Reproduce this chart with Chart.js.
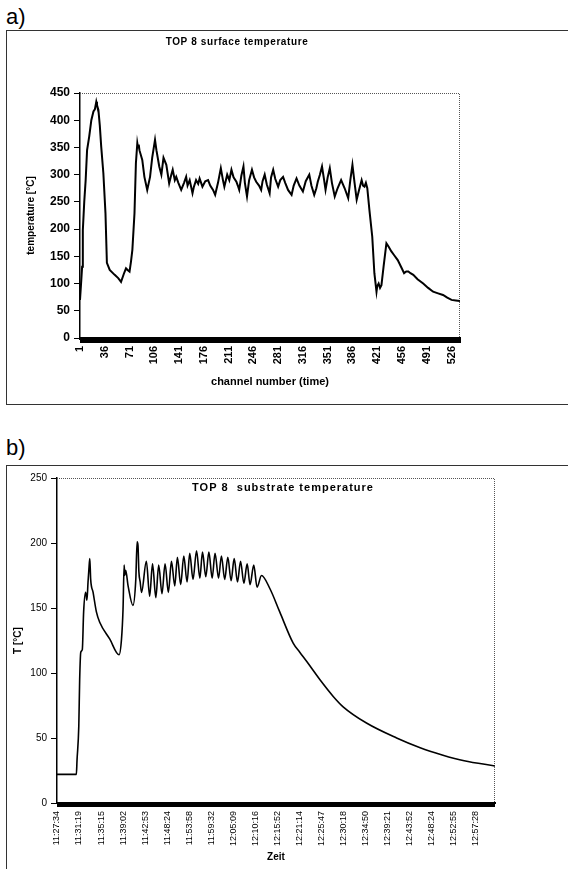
<!DOCTYPE html>
<html>
<head>
<meta charset="utf-8">
<script src="https://cdn.jsdelivr.net/npm/chart.js@4"></script>
<style>
  body { margin: 0; width: 568px; height: 869px; overflow: hidden; background: #fff; position: relative; font-family: "Liberation Sans", Arial, sans-serif; }
  .lbl { position: absolute; left: 6px; font-size: 22px; line-height: 1; color: #000; }
  .frame { position: absolute; left: 6px; width: 620px; border: 1px solid #333; border-right: none; }
  .wrap { position: absolute; left: 0; width: 568px; }
</style>
</head>
<body>
<div class="lbl" style="top:6px">a)</div>
<div class="frame" style="top:30px;height:373px"></div>
<div class="wrap" style="top:0;height:405px"><canvas id="chartA"></canvas></div>

<div class="lbl" style="top:437px">b)</div>
<div class="frame" style="top:465px;height:500px"></div>
<div class="wrap" style="top:405px;height:464px"><canvas id="chartB"></canvas></div>

<script>
// a) surface temperature vs. channel number
const channel = [1, 3, 4, 5, 7, 9, 11, 14, 17, 20, 22, 24, 25, 27, 29, 31, 34, 37, 39, 43, 50, 55, 59, 63, 66, 69, 71, 73, 75, 78,
  80, 82, 83, 84, 85, 89, 92, 96, 100, 103, 107, 109, 113, 116, 119, 123, 127, 130, 132, 135, 137, 140, 144, 148, 151, 153, 156, 160,
  162, 165, 168, 170, 174, 178, 182, 185, 189, 192, 196, 200, 203, 205, 209, 212, 215, 218, 222, 224, 226, 229, 232, 234, 237, 240,
  244, 247, 250, 254, 257, 259, 262, 265, 269, 271, 274, 277, 281, 284, 288, 291, 295, 300, 303, 307, 311, 316, 320, 325, 328, 332,
  335, 337, 340, 343, 346, 348, 351, 354, 357, 361, 365, 370, 375, 380, 383, 386, 389, 392, 395, 399, 401, 403, 405, 407, 410, 414,
  417, 420, 421, 423, 425, 427, 430, 434, 437, 441, 445, 450, 455, 459, 462, 465, 468, 472, 478, 486, 493, 500, 507, 514, 520, 526,
  532, 538];
const surfaceTemp = [70, 110, 131, 198, 250, 290, 345, 370, 400, 416, 420, 434, 428, 419, 390, 351, 303, 229, 138, 125, 116, 110, 103, 118, 128, 124, 122, 140, 162, 229,
  321, 358, 350, 355, 345, 327, 296, 272, 296, 331, 364, 345, 315, 300, 331, 318, 284, 300, 309, 290, 296, 285, 272, 285, 296, 280, 290, 266,
  278, 290, 283, 293, 278, 288, 290, 280, 272, 263, 285, 312, 290, 278, 300, 290, 309, 295, 287, 280, 272, 298, 315, 285, 260, 290,
  309, 295, 287, 280, 272, 288, 300, 282, 266, 295, 309, 292, 278, 290, 296, 285, 272, 263, 280, 293, 280, 269, 288, 300, 280, 263,
  275, 287, 300, 315, 290, 272, 295, 312, 285, 260, 275, 290, 275, 257, 290, 318, 285, 254, 270, 290, 280, 278, 285, 275, 235, 186,
  119, 85, 95, 100, 92, 97, 131, 174, 168, 159, 152, 143, 130, 119, 122, 122, 119, 116, 108, 100, 92, 85, 82, 79, 74, 70,
  69, 68];
const channelTicks = [1, 36, 71, 106, 141, 176, 211, 246, 281, 316, 351, 386, 421, 456, 491, 526];
const surfaceYTicks = [0, 50, 100, 150, 200, 250, 300, 350, 400, 450];

// b) substrate temperature vs. time (x in label steps)
const timeLabels = ["11:27:34", "11:31:19", "11:35:15", "11:39:02", "11:42:53", "11:48:24", "11:53:58", "11:59:32", "12:05:09", "12:10:16",
  "12:15:52", "12:21:14", "12:25:47", "12:30:18", "12:34:50", "12:39:21", "12:43:52", "12:48:24", "12:52:55", "12:57:28"];
const timePos = [0, 0.5, 0.88, 0.91, 0.99, 1.03, 1.08, 1.15, 1.21, 1.30, 1.36, 1.41, 1.45, 1.49, 1.53, 1.64, 1.79, 1.94, 2.40, 2.82,
  2.93, 3.0, 3.05, 3.08, 3.12, 3.23, 3.45, 3.58, 3.64, 3.68, 3.72, 3.78, 3.84,
  4.06, 4.21, 4.34, 4.49, 4.62, 4.77, 4.91, 5.06, 5.20, 5.35, 5.47, 5.62, 5.76, 5.91, 6.03, 6.18, 6.34, 6.49, 6.61, 6.76,
  6.90, 7.05, 7.18, 7.34, 7.47, 7.62, 7.76, 7.91, 8.05, 8.20, 8.34, 8.49, 8.64, 8.77, 8.94, 9.09, 9.29,
  9.67, 10.12, 10.73, 11.03, 11.34, 11.94, 12.55, 13.0, 14.06, 15.43, 16.5, 17.5, 18.5, 19.9];
const substrateTemp = [22, 22, 22, 33, 59, 95, 116, 118, 147, 162, 156, 170, 180, 188, 172, 162, 147, 139, 126, 114,
  126, 149, 183, 175, 179, 167, 152, 172, 201, 198, 178, 170, 162,
  186, 159, 184, 158, 183, 161, 184, 162, 186, 167, 189, 168, 190, 170, 192, 172, 194, 173, 193, 174,
  193, 173, 192, 173, 190, 172, 189, 171, 188, 170, 186, 169, 184, 168, 183, 166, 175,
  165, 147, 123, 116, 109, 95, 82, 74, 61.5, 50, 42.5, 37, 32.5, 28.5];
const substrateYTicks = [0, 50, 100, 150, 200, 250];

Chart.defaults.font.family = '"Liberation Sans", Arial, sans-serif';
Chart.defaults.color = "#000";

// dotted plot border (top + right) and the title inside the frame
const plotDecor = {
  id: "plotDecor",
  beforeDatasetsDraw(chart) {
    const { ctx, chartArea: a } = chart;
    ctx.save();
    ctx.strokeStyle = "#555";
    ctx.lineWidth = 1;
    ctx.setLineDash([1, 1]);
    ctx.beginPath();
    ctx.moveTo(a.left, a.top + 0.5);
    ctx.lineTo(a.right - 0.5, a.top + 0.5);
    ctx.lineTo(a.right - 0.5, a.bottom);
    ctx.stroke();
    ctx.restore();
  },
  afterDraw(chart, args, o) {
    const ctx = chart.ctx;
    ctx.save();
    ctx.font = o.font;
    ctx.letterSpacing = o.spacing;
    ctx.fillStyle = "#000";
    ctx.textAlign = "center";
    ctx.textBaseline = "middle";
    ctx.fillText(o.text, o.x, o.y);
    ctx.restore();
  },
};

const surfaceChart = new Chart(document.getElementById("chartA").getContext("2d"), {
  type: "line",
  data: {
    datasets: [
      {
        data: channel.map((c, i) => ({ x: c, y: surfaceTemp[i] })),
        borderColor: "#000",
        borderWidth: 2,
        pointRadius: 0,
        tension: 0,
      },
    ],
  },
  options: {
    responsive: true,
    maintainAspectRatio: false,
    animation: false,
    devicePixelRatio: 1,
    layout: { padding: { top: 93, right: 108, left: 0, bottom: 0 } },
    plugins: {
      legend: { display: false },
      tooltip: { enabled: false },
      plotDecor: { text: "TOP 8 surface temperature", x: 237, y: 42, font: "bold 10px 'Liberation Sans', Arial", spacing: "0.6px" },
    },
    scales: {
      x: {
        type: "linear",
        min: 1,
        max: 538,
        afterBuildTicks(scale) {
          const t = [];
          for (let v = 1; v <= 538; v++) t.push({ value: v });
          scale.ticks = t;
        },
        afterFit(scale) { scale.height = 67; },
        ticks: {
          autoSkip: false,
          minRotation: 90,
          maxRotation: 90,
          padding: 3,
          font: { size: 11, weight: "bold" },
          callback: (v) => (channelTicks.includes(v) ? String(v) : ""),
        },
        grid: { drawOnChartArea: false, tickLength: 5, color: "#000", lineWidth: 1 },
        border: { color: "#000", width: 3 },
        title: { display: true, text: "channel number (time)", font: { size: 11, weight: "bold" }, padding: { top: 0, bottom: 16 } },
      },
      y: {
        min: 0,
        max: 450,
        afterBuildTicks(scale) { scale.ticks = surfaceYTicks.map((v) => ({ value: v })); },
        afterFit(scale) { scale.width = 80; },
        ticks: { padding: 4, font: { size: 12, weight: "bold" } },
        grid: { drawOnChartArea: false, tickLength: 6, color: "#000" },
        border: { color: "#000", width: 1.5 },
        title: { display: true, text: "temperature [°C]", font: { size: 10, weight: "bold" }, padding: { top: 25, bottom: 0 } },
      },
    },
  },
  plugins: [plotDecor],
});

const substrateChart = new Chart(document.getElementById("chartB").getContext("2d"), {
  type: "line",
  data: {
    datasets: [
      {
        data: timePos.map((p, i) => ({ x: p, y: substrateTemp[i] })),
        borderColor: "#000",
        borderWidth: 1.6,
        pointRadius: 0,
        cubicInterpolationMode: "monotone",
      },
    ],
  },
  options: {
    responsive: true,
    maintainAspectRatio: false,
    animation: false,
    devicePixelRatio: 1,
    layout: { padding: { top: 73, right: 73, left: 0, bottom: 0 } },
    plugins: {
      legend: { display: false },
      tooltip: { enabled: false },
      plotDecor: { text: "TOP 8  substrate temperature", x: 283, y: 83, font: "bold 11px 'Liberation Sans', Arial", spacing: "1px" },
    },
    scales: {
      x: {
        type: "linear",
        min: 0,
        max: 19.9,
        afterBuildTicks(scale) {
          const t = [];
          for (let i = 0; i <= 497; i++) t.push({ value: i / 25 });
          scale.ticks = t;
        },
        afterFit(scale) { scale.height = 66; },
        ticks: {
          autoSkip: false,
          minRotation: 90,
          maxRotation: 90,
          padding: 4,
          font: { size: 9 },
          callback: (v) => (Number.isInteger(v) && timeLabels[v] ? timeLabels[v] : ""),
        },
        grid: { drawOnChartArea: false, tickLength: 4, color: "#000", lineWidth: 1 },
        border: { color: "#000", width: 2 },
        title: { display: true, text: "Zeit", font: { size: 10, weight: "bold" }, padding: { top: 0, bottom: 6 } },
      },
      y: {
        min: 0,
        max: 250,
        afterBuildTicks(scale) { scale.ticks = substrateYTicks.map((v) => ({ value: v })); },
        afterFit(scale) { scale.width = 57; },
        ticks: { padding: 4, font: { size: 10 } },
        grid: { drawOnChartArea: false, tickLength: 6, color: "#000" },
        border: { color: "#000", width: 1.5 },
        title: { display: true, text: "T [°C]", font: { size: 10, weight: "bold" }, padding: { top: 12, bottom: 0 } },
      },
    },
  },
  plugins: [plotDecor],
});
</script>
</body>
</html>
